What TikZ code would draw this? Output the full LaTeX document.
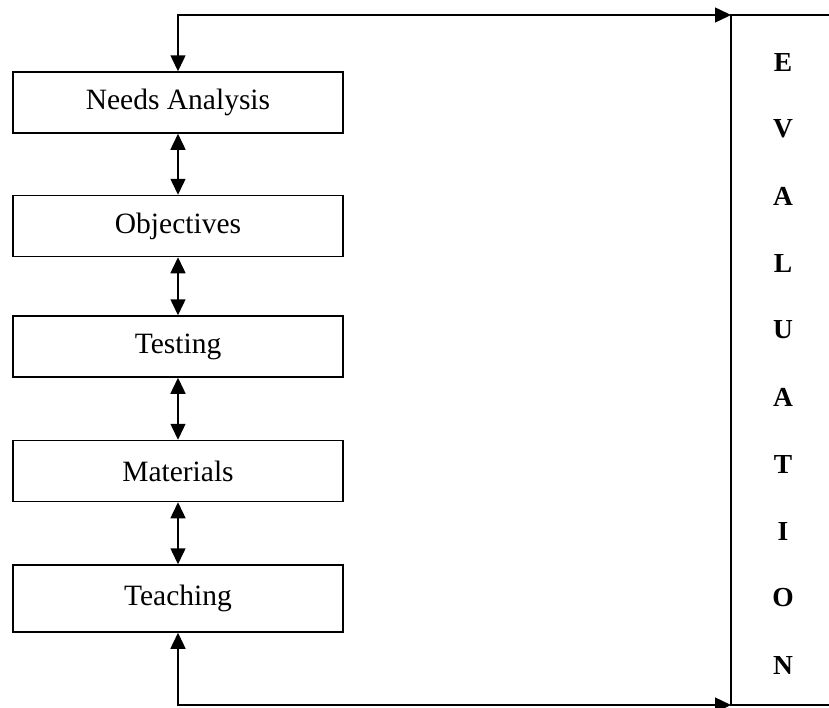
\documentclass[tikz,border=0pt]{standalone}
\usepackage{fontspec}
\setmainfont{Liberation Serif}
\usetikzlibrary{arrows.meta}
\begin{document}
\begin{tikzpicture}[x=1pt,y=-1pt,
  stagebox/.style={draw, line width=1.5pt, minimum width=330pt, minimum height=61pt, inner sep=0pt, font=\fontsize{29.5}{31}\selectfont},
  conn/.style={line width=1.5pt, {Triangle[length=16pt,width=15pt]}-{Triangle[length=16pt,width=15pt]}},
  letter/.style={font=\fontsize{27.5}{29}\selectfont\bfseries, inner sep=0pt}]
\useasboundingbox (0,0) rectangle (829,707);
\node[stagebox] (na) at (178,102.5) {Needs Analysis};
\node[stagebox] (ob) at (178,226) {Objectives};
\node[stagebox] (te) at (178,346.5) {Testing};
\node[stagebox] (ma) at (178,471) {Materials};
\node[stagebox, minimum height=67pt] (tc) at (178,598.5) {Teaching};
\coordinate (evnw) at (731,15);
\coordinate (evsw) at (731,705);
\coordinate (evne) at (860,15);
\coordinate (evse) at (860,705);
\draw[line width=1.5pt] (evne) -- (evnw) -- (evsw) -- (evse);
\draw[conn] (na) -- (ob);
\draw[conn] (ob) -- (te);
\draw[conn] (te) -- (ma);
\draw[conn] (ma) -- (tc);
\draw[conn] (na.north) |- (evnw);
\draw[conn] (tc.south) |- (evsw);
\foreach \l [count=\i from 0] in {E,V,A,L,U,A,T,I,O,N}
  \node[letter] (l\i) at (783,{62+67*\i}) {\l};
\end{tikzpicture}
\end{document}
